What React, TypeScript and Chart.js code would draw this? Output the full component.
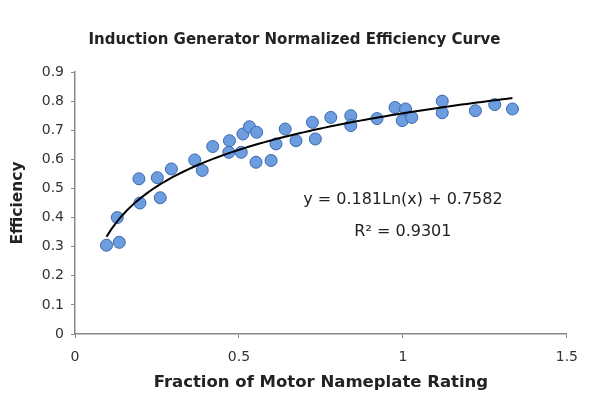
import React, { useEffect, useRef } from "react";
import { Chart, registerables } from "chart.js";

Chart.register(...registerables);

const TITLE = "Induction Generator Normalized Efficiency Curve";
const X_TITLE = "Fraction of Motor Nameplate Rating";
const Y_TITLE = "Efficiency";

const fractionX = [
  0.096, 0.135, 0.129, 0.195, 0.198, 0.251, 0.26, 0.294, 0.365, 0.388,
  0.42, 0.471, 0.469, 0.507, 0.512, 0.532, 0.554, 0.552, 0.598, 0.613,
  0.641, 0.674, 0.724, 0.733, 0.78, 0.841, 0.841, 0.921, 0.976, 0.998,
  1.008, 1.027, 1.12, 1.12, 1.221, 1.28, 1.334,
];
const efficiencyY = [
  0.305, 0.315, 0.4, 0.533, 0.45, 0.537, 0.468, 0.567, 0.598, 0.562,
  0.644, 0.664, 0.624, 0.624, 0.687, 0.712, 0.693, 0.59, 0.596, 0.653,
  0.704, 0.664, 0.727, 0.67, 0.744, 0.75, 0.716, 0.74, 0.778, 0.733,
  0.773, 0.744, 0.8, 0.76, 0.767, 0.788, 0.773,
];

// Logarithmic trendline shown on the chart: y = a*ln(x) + b
const TREND_A = 0.181;
const TREND_B = 0.7582;
const EQUATION_TEXT = "y = 0.181Ln(x) + 0.7582";
const R2_TEXT = "R² = 0.9301";

const xTicks = [0, 0.5, 1, 1.5];
const yTicks = [0, 0.1, 0.2, 0.3, 0.4, 0.5, 0.6, 0.7, 0.8, 0.9];

const FONT = "'DejaVu Sans', Verdana, sans-serif";

export default function App() {
  const ref = useRef<HTMLCanvasElement | null>(null);

  useEffect(() => {
    const canvas = ref.current;
    if (!canvas) return;

    const scatter = fractionX.map((x, i) => ({ x, y: efficiencyY[i] }));
    const xmin = Math.min(...fractionX);
    const xmax = Math.max(...fractionX);
    const trend: { x: number; y: number }[] = [];
    const n = 80;
    for (let i = 0; i <= n; i++) {
      const x = xmin + ((xmax - xmin) * i) / n;
      trend.push({ x, y: TREND_A * Math.log(x) + TREND_B });
    }

    const annotate = {
      id: "annotate",
      afterDatasetsDraw(chart: any) {
        const { ctx, scales, width } = chart;
        const cx = scales.x.getPixelForValue(1.0);
        ctx.save();
        ctx.fillStyle = "#222";
        ctx.textAlign = "center";
        ctx.textBaseline = "middle";
        ctx.font = `16px ${FONT}`;
        ctx.fillText(EQUATION_TEXT, cx, scales.y.getPixelForValue(0.46));
        ctx.fillText(R2_TEXT, cx, scales.y.getPixelForValue(0.35));
        ctx.font = `bold 15px ${FONT}`;
        ctx.fillText(TITLE, width / 2, 40);
        ctx.restore();
      },
    };

    const bg = {
      id: "bg",
      beforeDraw(chart: any) {
        const { ctx, width, height } = chart;
        ctx.save();
        ctx.fillStyle = "#ffffff";
        ctx.fillRect(0, 0, width, height);
        ctx.restore();
      },
    };

    const chart = new Chart(canvas, {
      type: "scatter",
      data: {
        datasets: [
          {
            label: "Trend",
            data: trend,
            showLine: true,
            borderColor: "#000000",
            borderWidth: 2,
            pointRadius: 0,
            fill: false,
            tension: 0,
            order: 0,
          },
          {
            label: "Efficiency",
            data: scatter,
            backgroundColor: "#6c9edf",
            borderColor: "#3a68b0",
            borderWidth: 1,
            pointRadius: 6,
            order: 1,
          },
        ],
      },
      plugins: [bg, annotate],
      options: {
        responsive: false,
        animation: false,
        events: [],
        layout: { padding: { left: 0, right: 18, top: 72, bottom: 0 } },
        plugins: {
          legend: { display: false },
          tooltip: { enabled: false },
          title: { display: false },
        },
        scales: {
          x: {
            type: "linear",
            min: 0,
            max: 1.5,
            afterBuildTicks: (scale: any) => {
              scale.ticks = xTicks.map((v) => ({ value: v }));
            },
            afterFit: (scale: any) => {
              scale.height = 62;
            },
            ticks: {
              color: "#333",
              font: { family: FONT, size: 14 },
              padding: 11,
              callback: (v: any) => String(v),
            },
            grid: {
              display: true,
              drawOnChartArea: false,
              drawTicks: true,
              tickLength: 4,
              color: "#888",
            },
            border: { display: true, color: "#888", width: 1.5 },
            title: {
              display: true,
              text: X_TITLE,
              color: "#222",
              font: { family: FONT, size: 16.5, weight: "bold" },
              padding: { top: 0, bottom: 3 },
            },
          },
          y: {
            type: "linear",
            min: 0,
            max: 0.9,
            afterBuildTicks: (scale: any) => {
              scale.ticks = yTicks.map((v) => ({ value: v }));
            },
            afterFit: (scale: any) => {
              scale.width = 75;
            },
            ticks: {
              color: "#333",
              font: { family: FONT, size: 14 },
              padding: 7,
              callback: (v: any) => String(Math.round(v * 10) / 10),
            },
            grid: {
              display: true,
              drawOnChartArea: false,
              drawTicks: true,
              tickLength: 4,
              color: "#888",
            },
            border: { display: true, color: "#888", width: 1.5 },
            title: {
              display: true,
              text: Y_TITLE,
              color: "#222",
              font: { family: FONT, size: 15.5, weight: "bold" },
              padding: { top: 8.5, bottom: 0 },
            },
          },
        },
      },
    });

    return () => chart.destroy();
  }, []);

  return (
    <div style={{ position: "absolute", left: 0, top: 0, width: 589, height: 396, background: "#fff" }}>
      <canvas ref={ref} width={589} height={396} />
    </div>
  );
}
